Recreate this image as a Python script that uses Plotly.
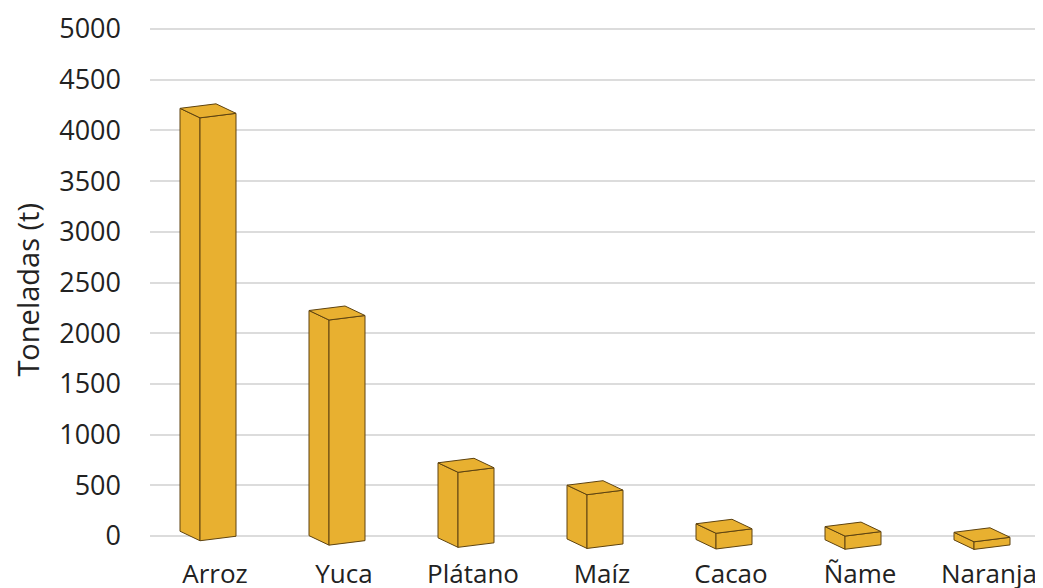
import plotly.graph_objects as go

categories = ["Arroz", "Yuca", "Plátano", "Maíz", "Cacao", "Ñame", "Naranja"]
values = [4170, 2220, 740, 530, 155, 130, 75]
y_ticks = [0, 500, 1000, 1500, 2000, 2500, 3000, 3500, 4000, 4500, 5000]

# pixel -> data conversion (for the pseudo-3D depth offsets)
PX_X = 1 / 129.0        # category units per pixel
PX_Y = 5000 / 507.0     # value units per pixel

FILL = "#E8B030"
EDGE = "#5E4310"

fig = go.Figure()

for i, (cat, v) in enumerate(zip(categories, values)):
    fx = i - 15 * PX_X
    # perspective: floor of the front corner drops slightly towards the right
    fy = -(13.5 - 8.8 * 0.5 ** i) * PX_Y

    def P(dx, dy, top=False):
        return (fx + dx * PX_X, fy + dy * PX_Y + (v if top else 0))

    FB = P(0, 0); LB = P(-20, 9.5); RB = P(36, 4.5)
    FT = P(0, 0, True); LT = P(-20, 9.5, True); RT = P(36, 4.5, True); BT = P(16, 14, True)

    faces = [
        [FB, LB, LT, FT],
        [FB, RB, RT, FT],
        [FT, LT, BT, RT],
    ]
    for face in faces:
        xs = [p[0] for p in face] + [face[0][0]]
        ys = [p[1] for p in face] + [face[0][1]]
        fig.add_trace(go.Scatter(
            x=xs, y=ys, mode="lines", fill="toself",
            fillcolor=FILL, line=dict(color=EDGE, width=1),
            hoverinfo="skip", showlegend=False,
        ))

fig.add_annotation(
    text="Toneladas (t)", textangle=-90,
    xref="paper", x=0, xanchor="center", xshift=-122,
    yref="y", y=2430, yanchor="middle",
    showarrow=False, font=dict(size=29, color="#222222", family="Open Sans"),
)

fig.update_layout(
    width=1035, height=580,
    margin=dict(l=142, r=0, t=2, b=33),
    paper_bgcolor="white", plot_bgcolor="white",
    font=dict(family="Open Sans", size=26, color="#222222"),
    xaxis=dict(
        range=[-65 / 129.0, 828 / 129.0],
        tickmode="array", tickvals=list(range(len(categories))), ticktext=categories,
        showgrid=False, zeroline=False, showline=False, ticks="",
        ticklabelstandoff=1, automargin=False,
        tickfont=dict(size=26, color="#222222"),
        fixedrange=True,
    ),
    yaxis=dict(
        range=[-187, 5187],
        tickmode="array", tickvals=y_ticks, ticktext=[str(t) for t in y_ticks],
        showgrid=True, gridcolor="#DCDCDC", gridwidth=1.5,
        zeroline=False, showline=False, ticks="",
        ticklabelstandoff=28, automargin=False,
        tickfont=dict(size=27, color="#222222"),
        fixedrange=True,
    ),
)

fig.write_html("out.html")
